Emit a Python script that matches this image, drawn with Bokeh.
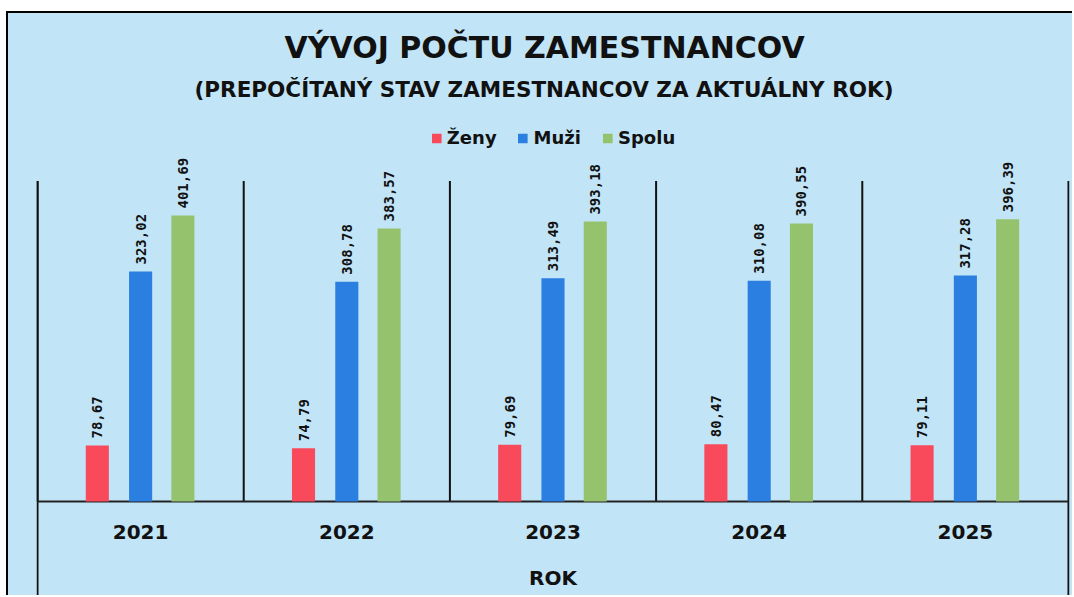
import math
from bokeh.plotting import figure
from bokeh.models import ColumnDataSource, FactorRange, Title, Legend, LegendItem
from bokeh.transform import dodge
from bokeh.core.properties import value
from bokeh.embed import file_html
from bokeh.resources import INLINE

# ---- data ----
years = ["2021", "2022", "2023", "2024", "2025"]
zeny = [78.67, 74.79, 79.69, 80.47, 79.11]
muzi = [323.02, 308.78, 313.49, 310.08, 317.28]
spolu = [401.69, 383.57, 393.18, 390.55, 396.39]
series_names = ["Ženy", "Muži", "Spolu"]
title_text = "VÝVOJ POČTU ZAMESTNANCOV"
subtitle_text = "(PREPOČÍTANÝ STAV ZAMESTNANCOV ZA AKTUÁLNY ROK)"
axis_title = "ROK"
axis_max = 450

BG = "#c2e4f7"
COLORS = ["#f84a5b", "#2b7fe0", "#95c36d"]
FONT = "DejaVu Sans"
LABEL_FONT = "DejaVu Sans Mono"
INK = "#111111"

def fmt(v):
    return f"{v:.2f}".replace(".", ",")

src = ColumnDataSource(dict(
    year=years, zeny=zeny, muzi=muzi, spolu=spolu,
    zeny_t=[fmt(v) for v in zeny], muzi_t=[fmt(v) for v in muzi], spolu_t=[fmt(v) for v in spolu],
    base=[0] * len(years), top=[axis_max] * len(years),
))

# layout geometry (page pixels)
canvas_top = 13
height = 584
px_per_unit = 0.712
frame_top_px = 116
baseline_px = 501
bottom_px = canvas_top + height
y_end = (baseline_px - frame_top_px) / px_per_unit
y_start = -(bottom_px - baseline_px) / px_per_unit

p = figure(width=1066, height=height, x_range=FactorRange(factors=years, range_padding=0.002),
           y_range=(y_start, y_end), x_axis_location=None, y_axis_location=None,
           toolbar_location=None, output_backend="svg",
           min_border_left=28, min_border_right=5, min_border_top=frame_top_px - canvas_top,
           min_border_bottom=0)
p.styles = {"margin-top": "11px", "margin-left": "6px", "background-color": BG,
            "border-top": "2px solid black", "border-left": "2px solid black"}
p.background_fill_color = None
p.border_fill_color = None
p.outline_line_color = None
p.xgrid.visible = False
p.ygrid.visible = False

p.add_layout(Title(text=subtitle_text, align="left", offset=158, text_font=FONT,
                   text_font_size="21.5px", text_font_style="bold", text_color=INK,
                   standoff=30), "above")
p.add_layout(Title(text=title_text, align="left", offset=248, text_font=FONT,
                   text_font_size="30px", text_font_style="bold", text_color=INK,
                   standoff=-11), "above")

# separator lines (category boundaries)
p.segment(x0=dodge("year", -0.5, range=p.x_range), y0="base", x1=dodge("year", -0.5, range=p.x_range),
          y1="top", source=src, line_color=INK, line_width=2)
# left and right lines running to the bottom
p.segment(x0=[(years[0], -0.5)], y0=[y_start], x1=[(years[0], -0.5)], y1=[axis_max],
          line_color=INK, line_width=2)
p.segment(x0=[(years[-1], 0.5)], y0=[y_start], x1=[(years[-1], 0.5)], y1=[axis_max],
          line_color=INK, line_width=2)
# baseline
p.segment(x0=[(years[0], -0.5)], y0=[0], x1=[(years[-1], 0.5)], y1=[0],
          line_color="#222222", line_width=2)

offsets = [-0.21, 0.0, 0.205]
cols = ["zeny", "muzi", "spolu"]
renderers = []
for name, col, off, color in zip(series_names, cols, offsets, COLORS):
    r = p.vbar(x=dodge("year", off, range=p.x_range), top=col, bottom=0, width=0.112,
               source=src, fill_color=color, line_color=None)
    renderers.append((name, r))
    p.text(x=dodge("year", off, range=p.x_range), y=col, text=col + "_t", source=src,
           angle=math.pi / 2, text_align="left", text_baseline="middle", y_offset=-7,
           text_font=value(LABEL_FONT), text_font_style="bold", text_font_size="14px",
           text_color=INK)

# category labels & axis title
p.text(x="year", y="base", text="year", source=src, y_offset=30, text_align="center",
       text_baseline="middle", text_font=value(FONT), text_font_style="bold",
       text_font_size="20px", text_color=INK)
p.text(x=[years[2]], y=[0], text=[axis_title], y_offset=76, text_align="center",
       text_baseline="middle", text_font=value(FONT), text_font_style="bold",
       text_font_size="20px", text_color=INK)

legend = Legend(items=[LegendItem(label=n, renderers=[r]) for n, r in renderers],
                orientation="horizontal", location="top_center",
                background_fill_alpha=0, border_line_color=None,
                label_text_font=FONT, label_text_font_style="bold", label_text_font_size="18px",
                label_text_color=INK,
                glyph_width=12, glyph_height=12, label_standoff=5, spacing=20,
                margin=11, padding=4)
p.add_layout(legend)

open("out.html", "w").write(file_html(p, INLINE))
